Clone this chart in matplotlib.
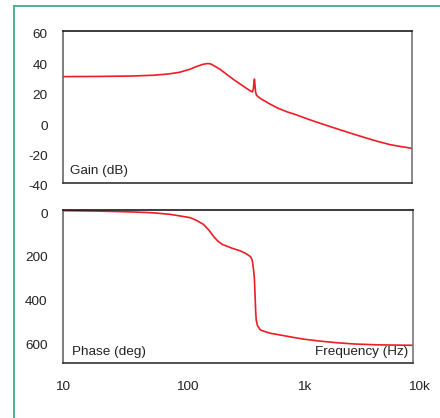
import matplotlib
matplotlib.use("Agg")
import matplotlib.pyplot as plt
from matplotlib.patches import Rectangle
from matplotlib.ticker import NullLocator, NullFormatter
import matplotlib.transforms as mtransforms

plt.rcParams['font.family'] = ['Liberation Sans', 'DejaVu Sans']

# ---- data ----
gain_freq = [10, 20, 40, 60, 80, 100, 123, 140, 160, 175, 185, 200, 224, 260,
             300, 350, 400, 424, 432, 438, 442, 446, 452, 460, 475, 500, 600,
             700, 838, 1000, 1300, 1622, 2000, 2500, 3134, 4000, 5000, 6500,
             8000, 10000]
gain_db = [30.0, 30.1, 30.4, 30.9, 31.7, 32.8, 34.8, 36.6, 38.1, 38.6, 38.4,
           37.0, 34.8, 31.0, 27.5, 24.0, 21.0, 19.9, 21.5, 26.0, 28.3, 25.5,
           20.0, 17.8, 16.8, 15.5, 12.0, 9.3, 6.9, 5.0, 1.8, -0.7, -3.0,
           -5.4, -7.8, -10.3, -12.5, -14.8, -16.0, -17.2]

phase_freq = [10, 20, 40, 60, 83, 100, 123, 140, 160, 178, 196, 212, 231, 282,
              330, 366, 404, 418, 425, 431, 437, 441, 445, 449, 453, 465, 492,
              550, 600, 729, 900, 1163, 1600, 2200, 3134, 5000, 10000]
phase_deg = [3, 5, 9, 13, 20, 27, 35, 48, 66, 92, 122, 142, 157, 175,
             187, 198, 213, 228, 252, 280, 313, 365, 420, 470, 503, 530, 549,
             558, 564, 572, 581, 591, 600, 607, 613, 617, 619]

gain_ticks = [60, 40, 20, 0, -20, -40]
phase_ticks = [0, 200, 400, 600]
freq_ticks = [10, 100, 1000, 10000]
freq_labels = ['10', '100', '1k', '10k']

RED = '#ee1c25'
TXT = '#222222'
FS = 9.7

fig = plt.figure(figsize=(4.4, 4.18), dpi=100)
W, H = 440.0, 418.0

# green frame (left and top visible)
fig.patches.append(Rectangle((14 / W, -0.1), 1.2, 1 - 6 / H + 0.1,
                             transform=fig.transFigure, fill=False,
                             edgecolor='#45a97f', linewidth=1.3))

def make_ax(x0, y0, x1, y1):
    return fig.add_axes([x0 / W, 1 - y1 / H, (x1 - x0) / W, (y1 - y0) / H])

ax1 = make_ax(63, 31, 412, 183)
ax2 = make_ax(63, 210, 413, 363)

for ax in (ax1, ax2):
    ax.set_xscale('log')
    ax.set_xlim(10, 10000)
    ax.spines['top'].set_color('#1a1a1a')
    ax.spines['bottom'].set_color('#333333')
    ax.spines['left'].set_color('#666666')
    ax.spines['right'].set_color('#777777')
    for s in ax.spines.values():
        s.set_linewidth(1.2)
    ax.tick_params(length=0, labelsize=FS, colors=TXT)
    ax.xaxis.set_minor_locator(NullLocator())

ax1.plot(gain_freq, gain_db, color=RED, linewidth=1.2)
ax1.set_ylim(-40, 60)
ax1.set_yticks(gain_ticks)
ax1.set_yticklabels([str(t) for t in gain_ticks])
ax1.tick_params(axis='y', pad=11)
ax1.set_xticks([])
ax1.xaxis.set_minor_formatter(NullFormatter())
ax1.text(0.02, 0.04, 'Gain (dB)', transform=ax1.transAxes, fontsize=FS,
         color=TXT, ha='left', va='bottom')

ax2.plot(phase_freq, phase_deg, color=RED, linewidth=1.2)
ax2.set_ylim(700, 0)
ax2.set_yticks(phase_ticks)
ax2.set_yticklabels([str(t) for t in phase_ticks])
ax2.tick_params(axis='y', pad=11)
ax2.set_xticks(freq_ticks)
ax2.set_xticklabels(freq_labels)
ax2.xaxis.set_minor_formatter(NullFormatter())
ax2.tick_params(axis='x', pad=13)
ax2.text(0.025, 0.03, 'Phase (deg)', transform=ax2.transAxes, fontsize=FS,
         color=TXT, ha='left', va='bottom')
ax2.text(0.985, 0.03, 'Frequency (Hz)', transform=ax2.transAxes, fontsize=FS,
         color=TXT, ha='right', va='bottom')

# shift y tick labels slightly down as in the reference
off = mtransforms.ScaledTranslation(0, -3 / 100, fig.dpi_scale_trans)
for ax in (ax1, ax2):
    for lab in ax.get_yticklabels():
        lab.set_transform(lab.get_transform() + off)

# x tick labels in the reference sit a little right of the decade positions
for lab, dx in zip(ax2.get_xticklabels(), [0, 8, 8, 6]):
    lab.set_transform(lab.get_transform() +
                      mtransforms.ScaledTranslation(dx / 100, 0, fig.dpi_scale_trans))

fig.savefig('out.png', dpi=100, facecolor='white')
